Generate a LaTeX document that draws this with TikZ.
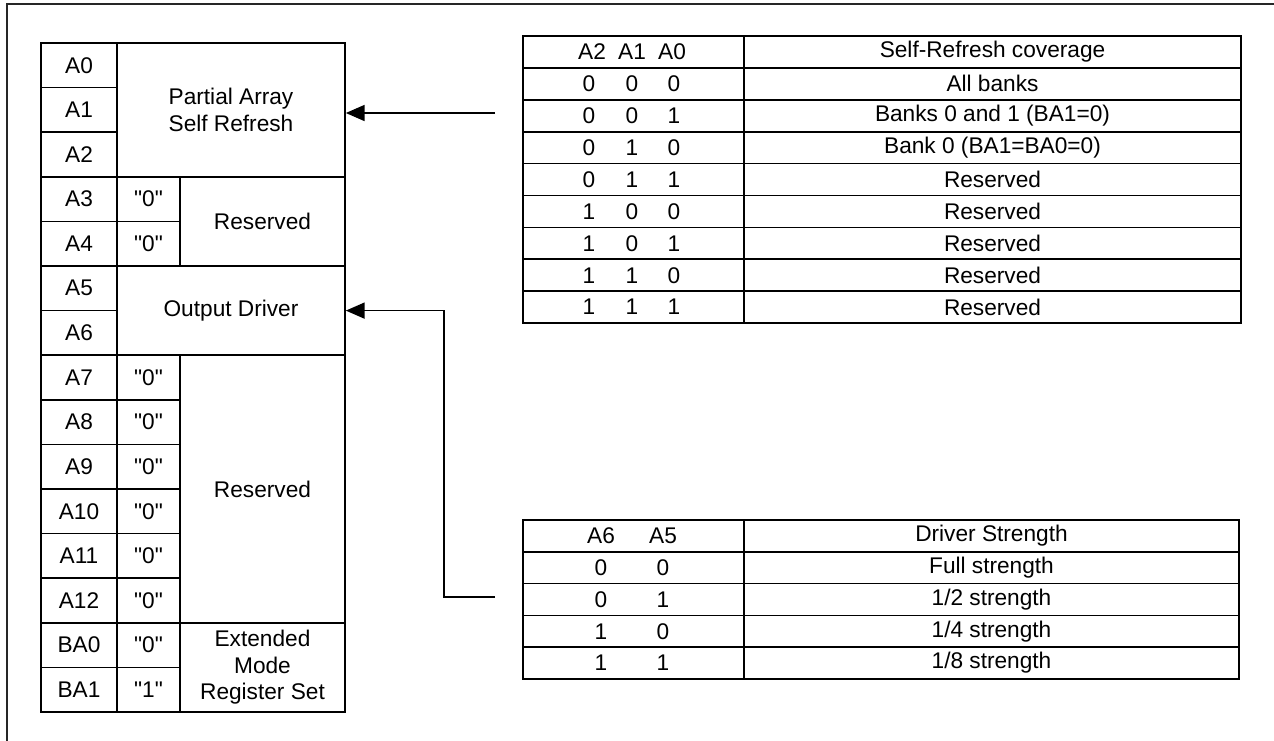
\documentclass[tikz,border=0pt]{standalone}
\usepackage{fontspec}
\setmainfont{Liberation Sans}[Ligatures=TeXOff]
\usetikzlibrary{arrows.meta}

\begin{document}
\begin{tikzpicture}[x=0.75pt, y=-0.75pt,
    every node/.style={font=\fontsize{17}{20}\selectfont, inner sep=0pt},
    cell/.style={draw, line width=1.3pt, align=center},
    cellat/.style n args={4}{cell,
      minimum width={((#3)-(#1))*0.75pt}, minimum height={((#4)-(#2))*0.75pt},
      at={({((#1)+(#3))/2},{((#2)+(#4))/2})}},
    sig/.style={line width=1pt, -{Triangle[length=14pt,width=12pt]}}]
  \useasboundingbox (0,0) rectangle (1274,740);

  % Rahmen
  \draw[line width=1.2pt, black!85] (7,760) -- (7,4) -- (1290,4);

  % Adressbits
  \foreach \lbl [count=\i from 0] in {A0,A1,A2,A3,A4,A5,A6,A7,A8,A9,A10,A11,A12,BA0,BA1}
    \node[cellat={41}{43+44.6*\i}{117}{43+44.6*(\i+1)}] (adr\i) {\lbl};

  % feste Werte
  \foreach \i/\v in {3/"0",4/"0",7/"0",8/"0",9/"0",10/"0",11/"0",12/"0",13/"0",14/"1"}
    \node[cellat={117}{43+44.6*\i}{180}{43+44.6*(\i+1)}] (bit\i) {\v};

  % Felder
  \node[cellat={117}{43}{345}{176.8}] (pasr) {Partial Array\\Self Refresh};
  \node[cellat={180}{176.8}{345}{266}] (rsva) {Reserved};
  \node[cellat={117}{266}{345}{355.2}] (drv) {Output Driver};
  \node[cellat={180}{355.2}{345}{622.8}] (rsvb) {Reserved};
  \node[cellat={180}{622.8}{345}{712}] (emrs) {Extended\\Mode\\Register Set};

  % Tabelle Self-Refresh
  \node[cellat={523}{36}{744}{67.9}] (srl0) {};
  \node[cellat={744}{36}{1241}{67.9}] (srr0) {Self-Refresh coverage};
  \node (srha) at (592,52) {A2};
  \node (srhb) at (632,52) {A1};
  \node (srhc) at (672,52) {A0};
  \foreach \a/\b/\c/\txt [count=\i] in {0/0/0/All banks,0/0/1/Banks 0 and 1 (BA1=0),
      0/1/0/Bank 0 (BA1=BA0=0),0/1/1/Reserved,1/0/0/Reserved,1/0/1/Reserved,
      1/1/0/Reserved,1/1/1/Reserved} {
    \node[cellat={523}{36+31.9*\i}{744}{36+31.9*(\i+1)}] (srl\i) {};
    \node[cellat={744}{36+31.9*\i}{1241}{36+31.9*(\i+1)}] (srr\i) {\txt};
    \node (sra\i) at (589,{36+31.9*(\i+0.5)}) {\a};
    \node (srb\i) at (632,{36+31.9*(\i+0.5)}) {\b};
    \node (src\i) at (674,{36+31.9*(\i+0.5)}) {\c};
  }

  % Tabelle Treiber
  \node[cellat={523}{520}{744}{551.8}] (dsl0) {};
  \node[cellat={744}{520}{1239}{551.8}] (dsr0) {Driver Strength};
  \node (dsha) at (601,536) {A6};
  \node (dshb) at (663,536) {A5};
  \foreach \a/\b/\txt [count=\i] in {0/0/{Full strength},0/1/{1/2 strength},
      1/0/{1/4 strength},1/1/{1/8 strength}} {
    \node[cellat={523}{520+31.8*\i}{744}{520+31.8*(\i+1)}] (dsl\i) {};
    \node[cellat={744}{520+31.8*\i}{1239}{520+31.8*(\i+1)}] (dsr\i) {\txt};
    \node (dsa\i) at (601,{520+31.8*(\i+0.5)}) {\a};
    \node (dsb\i) at (663,{520+31.8*(\i+0.5)}) {\b};
  }

  % Pfeile
  \coordinate (srtap) at (495,113);
  \coordinate (dstap) at (495,597);
  \coordinate (dsbend) at (444,597);
  \draw[sig] (srtap) -- (srtap -| pasr.east);
  \draw[sig] (dstap) -- (dsbend) |- (drv.east);
\end{tikzpicture}
\end{document}
